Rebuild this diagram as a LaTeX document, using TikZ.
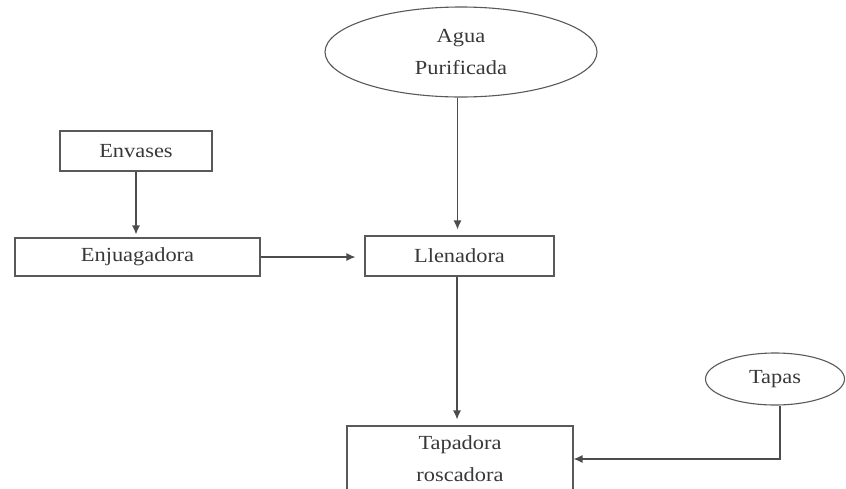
\documentclass[tikz,border=0pt]{standalone}
\usepackage{fontspec}
\setmainfont[FakeStretch=1.12]{Liberation Serif}
\usetikzlibrary{shapes.geometric,arrows.meta}
\begin{document}
\begin{tikzpicture}[x=1pt,y=-1pt,
  every node/.style={font=\fontsize{20}{32}\selectfont, text=black!78},
  boxnode/.style={draw=black!65, line width=1.1pt, rectangle, inner sep=0pt, align=center},
  ellnode/.style={draw=black!65, line width=1.1pt, ellipse, inner sep=0pt, align=center},
  flow/.style={draw=black!70, line width=1.2pt, -{Latex[length=9pt,width=8pt]}}]
\useasboundingbox (0,0) rectangle (846,488);
\begin{scope}
\clip (0,0) rectangle (846,488);
\node[ellnode, minimum width=272pt, minimum height=90pt] (agua) at (461,52) {Agua\\Purificada};
\node[boxnode, minimum width=152pt, minimum height=40pt] (envases) at (136,151) {Envases};
\node[boxnode, minimum width=245pt, minimum height=38pt] (enjuag) at (137.5,257) {Enjuagadora};
\node[boxnode, minimum width=189pt, minimum height=40pt] (llen) at (459.5,256) {Llenadora};
\node[boxnode, minimum width=226pt, minimum height=66pt] (tapad) at (460,459) {Tapadora\\roscadora};
\node[ellnode, minimum width=139pt, minimum height=52pt] (tapas) at (775,379) {Tapas};
\draw[flow, shorten >=6pt] ([xshift=-3.5pt]agua.south) -- ([xshift=-3.5pt]agua.south |- llen.north);
\draw[flow, shorten >=3pt] (envases.south) -- (envases.south |- enjuag.north);
\draw[flow, shorten >=9pt] (enjuag.east) -- (enjuag.east -| llen.west);
\draw[flow, shorten >=6pt] ([xshift=-2.5pt]llen.south) -- ([xshift=-2.5pt]llen.south |- tapad.north);
\draw[flow] ([xshift=5pt]tapas.south) |- (tapad.east);
\end{scope}
\end{tikzpicture}
\end{document}
